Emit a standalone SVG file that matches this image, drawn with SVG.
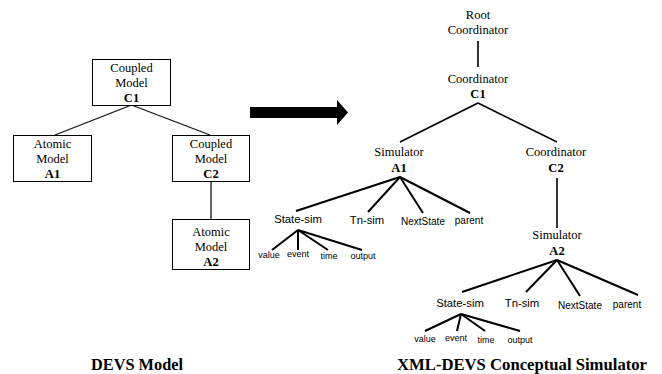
<svg xmlns="http://www.w3.org/2000/svg" width="662" height="374" viewBox="0 0 662 374">
  <style>
    .box { fill: #fff; stroke: #000; stroke-width: 1; }
    .serif { font-family: "Liberation Serif", "Times New Roman", serif; font-size: 12.5px; fill: #000; text-anchor: middle; }
    .b { font-weight: bold; }
    .sans { font-family: "Liberation Sans", Arial, sans-serif; fill: #000; text-anchor: middle; }
    .s1 { font-size: 11.3px; }
    .s2 { font-size: 10px; }
    .s3 { font-size: 9px; }
    .title { font-family: "Liberation Serif", "Times New Roman", serif; font-size: 17px; font-weight: bold; fill: #000; text-anchor: middle; }
    .thin { stroke: #111; stroke-width: 1.3; fill: none; }
    .mid { stroke: #000; stroke-width: 1.6; fill: none; }
    .fan { stroke: #000; stroke-width: 2; fill: none; }
  </style>

  <!-- connectors -->
  <g id="connectors">
    <!-- DEVS model tree -->
    <line class="thin" x1="131.5" y1="105" x2="55" y2="135"/>
    <line class="thin" x1="131.5" y1="105" x2="210" y2="135"/>
    <line class="thin" x1="211" y1="181" x2="211" y2="219"/>
    <!-- simulator tree -->
    <line class="mid" x1="478" y1="41" x2="478" y2="67"/>
    <line class="mid" x1="478" y1="103" x2="400" y2="142"/>
    <line class="mid" x1="478" y1="103" x2="557" y2="142"/>
    <line class="mid" x1="557" y1="178" x2="557" y2="228"/>
    <!-- A1 members -->
    <line class="fan" x1="400" y1="177" x2="296" y2="211"/>
    <line class="fan" x1="400" y1="177" x2="368" y2="212"/>
    <line class="fan" x1="400" y1="177" x2="423" y2="213"/>
    <line class="fan" x1="400" y1="177" x2="470" y2="213"/>
    <line class="fan" x1="298" y1="230" x2="272" y2="250"/>
    <line class="fan" x1="298" y1="230" x2="298" y2="250"/>
    <line class="fan" x1="298" y1="230" x2="328" y2="250"/>
    <line class="fan" x1="298" y1="230" x2="362" y2="250"/>
    <!-- A2 members -->
    <line class="fan" x1="557" y1="260" x2="462" y2="292"/>
    <line class="fan" x1="557" y1="260" x2="526" y2="292"/>
    <line class="fan" x1="557" y1="260" x2="580" y2="296"/>
    <line class="fan" x1="557" y1="260" x2="638" y2="295"/>
    <line class="fan" x1="461" y1="314" x2="425" y2="331"/>
    <line class="fan" x1="461" y1="314" x2="457" y2="331"/>
    <line class="fan" x1="461" y1="314" x2="485" y2="331"/>
    <line class="fan" x1="461" y1="314" x2="520" y2="331"/>
  </g>

  <!-- DEVS model nodes -->
  <g id="model-c1">
    <rect class="box" x="92.5" y="59.5" width="78" height="46"/>
    <text class="serif" x="131.5" y="72">Coupled</text>
    <text class="serif" x="131.5" y="87">Model</text>
    <text class="serif b" x="131.5" y="102">C1</text>
  </g>
  <g id="model-a1">
    <rect class="box" x="13.5" y="135.5" width="78" height="46"/>
    <text class="serif" x="52.5" y="148">Atomic</text>
    <text class="serif" x="52.5" y="163">Model</text>
    <text class="serif b" x="52.5" y="178">A1</text>
  </g>
  <g id="model-c2">
    <rect class="box" x="172.5" y="135.5" width="77" height="46"/>
    <text class="serif" x="211" y="148">Coupled</text>
    <text class="serif" x="211" y="163">Model</text>
    <text class="serif b" x="211" y="178">C2</text>
  </g>
  <g id="model-a2">
    <rect class="box" x="172.5" y="219.5" width="77" height="50"/>
    <text class="serif" x="211" y="236">Atomic</text>
    <text class="serif" x="211" y="251">Model</text>
    <text class="serif b" x="211" y="266">A2</text>
  </g>

  <!-- transformation arrow -->
  <g id="arrow">
    <polygon points="250,107 337,107 337,100 348,112.5 337,125 337,118 250,118" fill="#000"/>
  </g>

  <!-- conceptual simulator nodes -->
  <g id="root-coordinator">
    <text class="serif" x="478" y="19">Root</text>
    <text class="serif" x="478" y="34">Coordinator</text>
  </g>
  <g id="coordinator-c1">
    <text class="serif" x="478" y="83">Coordinator</text>
    <text class="serif b" x="478" y="98">C1</text>
  </g>
  <g id="simulator-a1">
    <text class="serif" x="399" y="156">Simulator</text>
    <text class="serif b" x="399" y="172">A1</text>
  </g>
  <g id="coordinator-c2">
    <text class="serif" x="556" y="156">Coordinator</text>
    <text class="serif b" x="556" y="172">C2</text>
  </g>
  <g id="simulator-a2">
    <text class="serif" x="557" y="239">Simulator</text>
    <text class="serif b" x="557" y="255">A2</text>
  </g>

  <!-- A1 member nodes -->
  <g id="a1-state-sim"><text class="sans s1" x="298" y="223">State-sim</text></g>
  <g id="a1-tn-sim"><text class="sans s1" x="367" y="224">Tn-sim</text></g>
  <g id="a1-nextstate"><text class="sans s2" x="423" y="225">NextState</text></g>
  <g id="a1-parent"><text class="sans s2" x="469" y="224">parent</text></g>
  <g id="a1-value"><text class="sans s3" x="269" y="258">value</text></g>
  <g id="a1-event"><text class="sans s3" x="298" y="257">event</text></g>
  <g id="a1-time"><text class="sans s3" x="329" y="259">time</text></g>
  <g id="a1-output"><text class="sans s3" x="363" y="259">output</text></g>

  <!-- A2 member nodes -->
  <g id="a2-state-sim"><text class="sans s1" x="460" y="307">State-sim</text></g>
  <g id="a2-tn-sim"><text class="sans s1" x="522" y="307">Tn-sim</text></g>
  <g id="a2-nextstate"><text class="sans s2" x="580" y="309">NextState</text></g>
  <g id="a2-parent"><text class="sans s2" x="627" y="308">parent</text></g>
  <g id="a2-value"><text class="sans s3" x="425" y="342">value</text></g>
  <g id="a2-event"><text class="sans s3" x="456" y="341">event</text></g>
  <g id="a2-time"><text class="sans s3" x="486" y="343">time</text></g>
  <g id="a2-output"><text class="sans s3" x="520" y="343">output</text></g>

  <!-- captions -->
  <text class="title" x="137" y="370" textLength="92" lengthAdjust="spacingAndGlyphs">DEVS Model</text>
  <text class="title" x="522" y="370" textLength="250" lengthAdjust="spacingAndGlyphs">XML-DEVS Conceptual Simulator</text>
</svg>
